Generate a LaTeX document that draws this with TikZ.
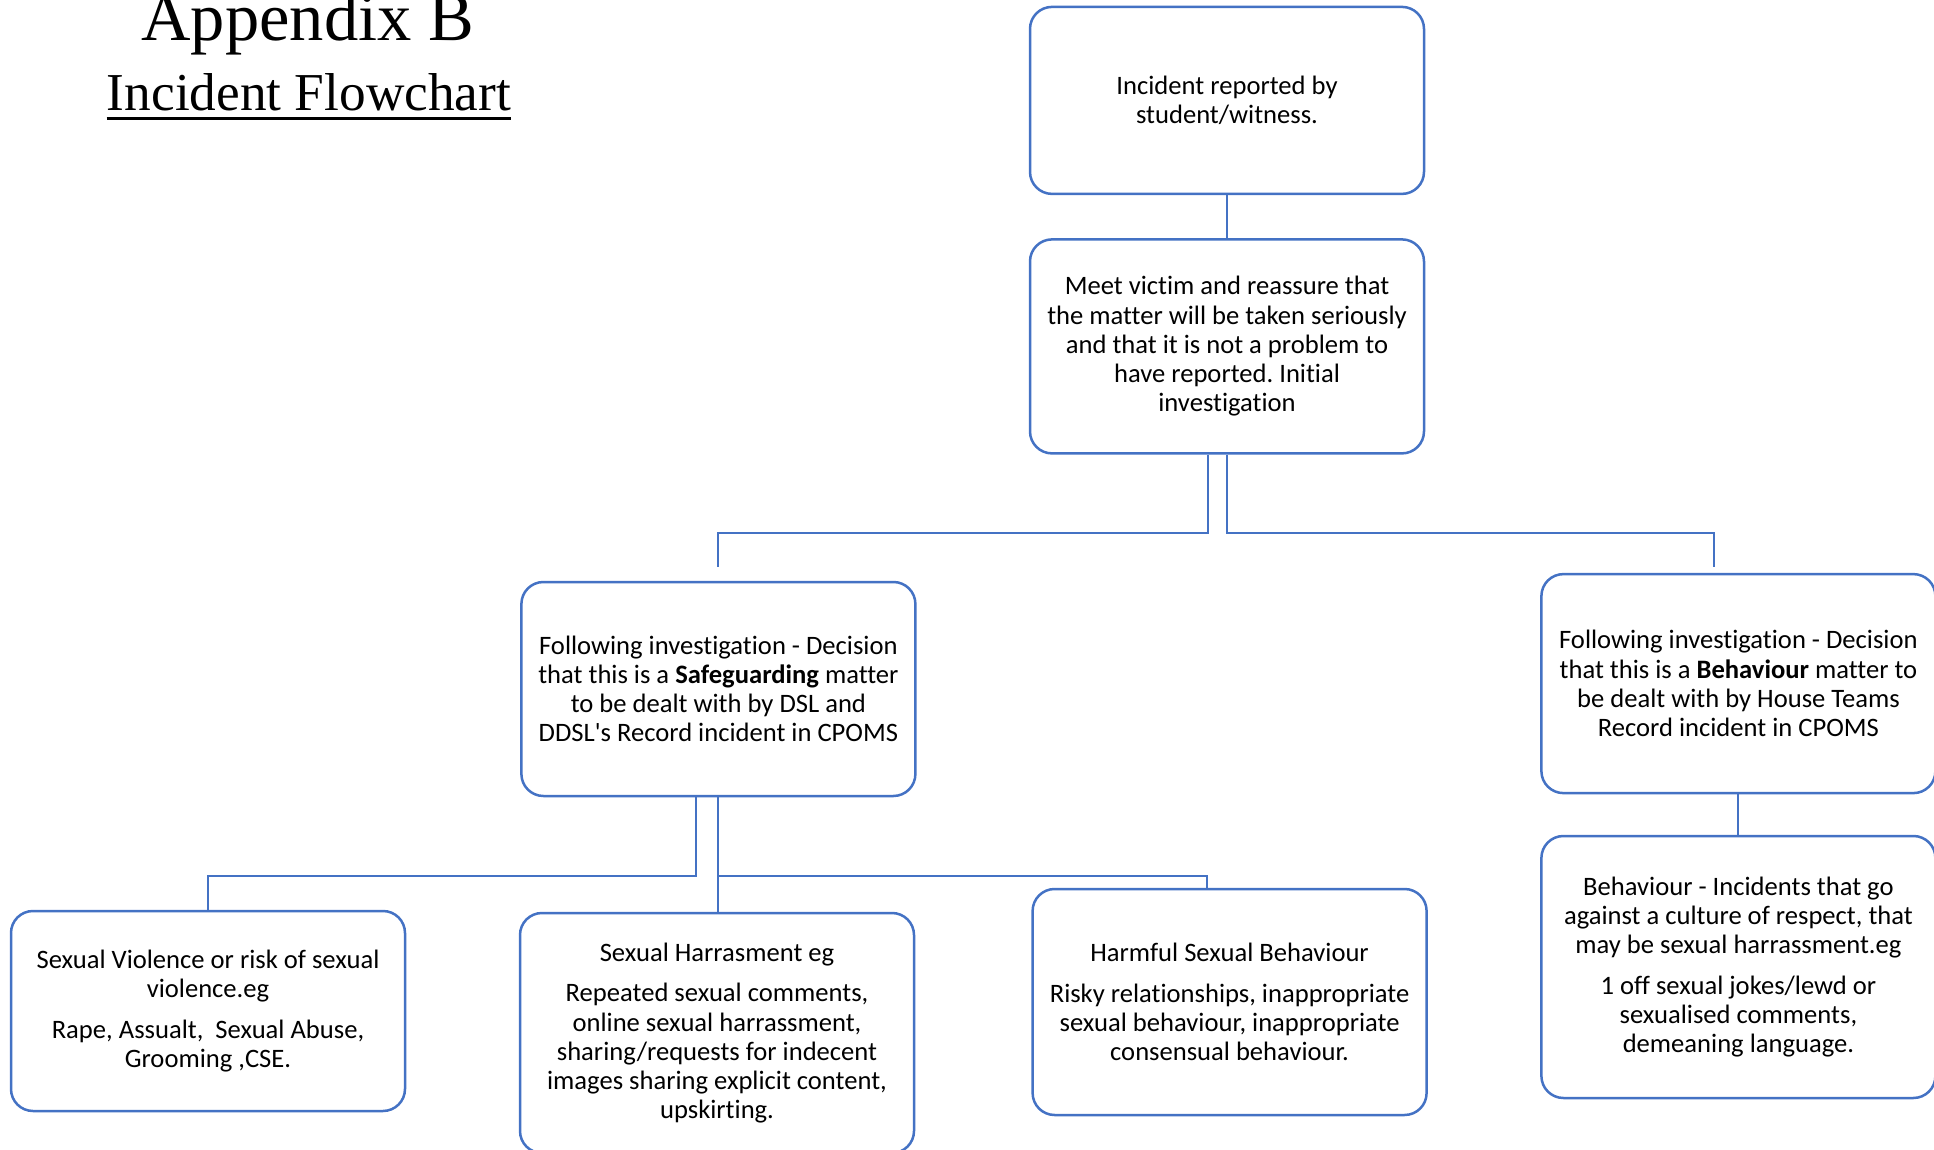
\documentclass[tikz,border=0pt]{standalone}
\usepackage{fontspec}
\setmainfont{Carlito}[Ligatures=NoCommon]
\newfontfamily\titlefont{Liberation Serif}
\usepackage{xcolor}
\usepackage{tikz}
\usetikzlibrary{positioning}
\frenchspacing
\definecolor{officeblue}{HTML}{4472C4}
\newcommand{\boxcolor}{officeblue}
\newcommand{\linkcolor}{officeblue}
\tikzstyle{flowbox} = [rectangle, rounded corners=11pt,
minimum width=197pt,
align=center,
draw=\boxcolor,
line width=1.25pt,
fill=white,
font=\fontsize{13.3pt}{14.6pt}\selectfont]
\tikzstyle{heading} = [inner sep=0pt, anchor=base]
\tikzstyle{link} = [line width=1pt, draw=\linkcolor]

\begin{document}
\begin{tikzpicture}[x=1pt, y=1pt, node distance=123pt]
\useasboundingbox (0,0) rectangle (967,-575);
\clip (0,0) rectangle (967,-575);

%-----------title
\node (appendix) [heading, font=\titlefont\fontsize{34.25pt}{40pt}\selectfont]
  at (154,-20.35) {Appendix B};
\node (flowtitle) [heading, font=\titlefont\fontsize{26.65pt}{32pt}\selectfont]
  at (154.5,-55.5) {Incident Flowchart};
\draw [line width=1.2pt] ([yshift=-3.8pt]flowtitle.base west)
  -- ([yshift=-3.8pt]flowtitle.base east);

%-----------the report
\node (report) [flowbox, minimum height=93.5pt] at (613.5,-50.2)
  {Incident reported by\\student/witness.};
%-----------first meeting
\node (meet) [flowbox, minimum height=107pt, below of=report]
  {Meet victim and reassure that\\the matter will be taken seriously\\and that it is not a problem to\\have reported. Initial\\investigation};

%-----------the two decisions
\node (safeguard) [flowbox, minimum height=107pt, below of=meet,
  xshift=-254.3pt, yshift=-48.3pt]
  {Following investigation - Decision\\that this is a \textbf{Safeguarding} matter\\to be dealt with by DSL and\\DDSL\textquotesingle s Record incident in CPOMS};
\node (behaviour) [flowbox, minimum height=109.5pt, right of=safeguard,
  xshift=387pt, yshift=2.7pt]
  {Following investigation - Decision\\that this is a \textbf{Behaviour} matter to\\be dealt with by House Teams\\Record incident in CPOMS};

%-----------safeguarding cases
\node (violence) [flowbox, minimum height=100pt, below of=safeguard,
  xshift=-255.2pt, yshift=-38pt]
  {Sexual Violence or risk of sexual\\violence.eg\\[5.7pt]Rape, Assualt,\ \ Sexual Abuse,\\Grooming ,CSE.};
\node (harass) [flowbox, minimum height=120pt, below of=safeguard,
  xshift=-0.7pt, yshift=-49pt]
  {Sexual Harrasment eg\\[5.7pt]Repeated sexual comments,\\online sexual harrassment,\\sharing/requests for indecent\\images sharing explicit content,\\upskirting.};
\node (harmful) [flowbox, minimum height=113pt, right of=harass,
  xshift=133.3pt, yshift=15.5pt]
  {Harmful Sexual Behaviour\\[5.7pt]Risky relationships, inappropriate\\sexual behaviour, inappropriate\\consensual behaviour.};

%-----------behaviour cases
\node (incidents) [flowbox, minimum height=131pt, below of=behaviour,
  yshift=-18.7pt]
  {Behaviour - Incidents that go\\against a culture of respect, that\\may be sexual harrassment.eg\\[5.7pt]1 off sexual jokes/lewd or\\sexualised comments,\\demeaning language.};

%-----------connectors
\draw [link] (report) -- (meet);
\draw [link, shorten >=7pt] ([xshift=-9.3pt]meet.south) -- ++(0,-39.3)
  -| (safeguard.north);
\draw [link, shorten >=3pt] (meet.south) -- ++(0,-39.3)
  -| ([xshift=-12pt]behaviour.north);
\draw [link] ([xshift=-11pt]safeguard.south) -- ++(0,-39.3) -| (violence.north);
\draw [link] (safeguard.south) -- (safeguard.south |- harass.north);
\draw [link] (safeguard.south) -- ++(0,-39.3) -| ([xshift=-11.3pt]harmful.north);
\draw [link] (behaviour) -- (incidents);

\end{tikzpicture}
\end{document}
